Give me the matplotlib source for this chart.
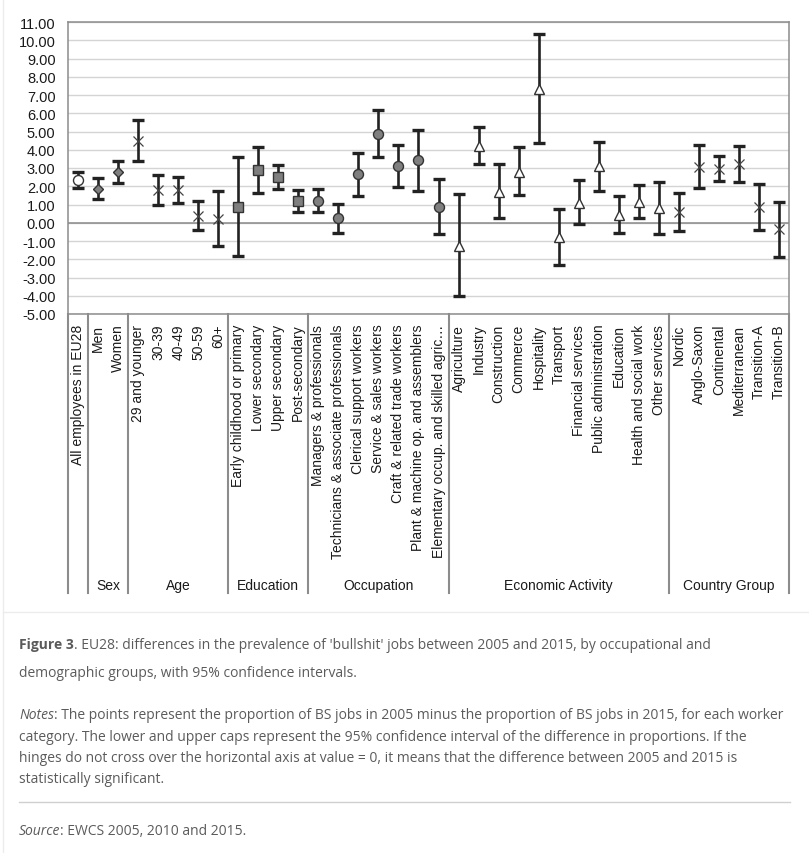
import matplotlib as mpl
import matplotlib.pyplot as plt
import numpy as np

# categories, in the order of the x axis
labels = [
    'All employees in EU28',
    'Men', 'Women',
    '29 and younger', '30-39', '40-49', '50-59', '60+',
    'Early childhood or primary', 'Lower secondary', 'Upper secondary', 'Post-secondary',
    'Managers & professionals', 'Technicians & associate professionals',
    'Clerical support workers', 'Service & sales workers', 'Craft & related trade workers',
    'Plant & machine op. and assemblers', 'Elementary occup. and skilled agric\u2026',
    'Agriculture', 'Industry', 'Construction', 'Commerce', 'Hospitality', 'Transport',
    'Financial services', 'Public administration', 'Education', 'Health and social work',
    'Other services',
    'Nordic', 'Anglo-Saxon', 'Continental', 'Mediterranean', 'Transition-A', 'Transition-B',
]
groups = ['', 'Sex', 'Age', 'Education', 'Occupation', 'Economic Activity', 'Country Group']
group_sizes = [1, 2, 5, 4, 7, 11, 6]

# difference 2005 - 2015 (percentage points) and 95% CI
point = [2.33,
         1.87, 2.78,
         4.48, 1.78, 1.78, 0.37, 0.19,
         0.89, 2.87, 2.51, 1.21,
         1.21, 0.25, 2.65, 4.88, 3.13, 3.42, 0.89,
         -1.27, 4.20, 1.71, 2.80, 7.34, -0.76, 1.10, 3.09, 0.43, 1.12, 0.79,
         0.61, 3.05, 2.97, 3.22, 0.85, -0.36]
upper = [2.76,
         2.47, 3.37,
         5.61, 2.62, 2.53, 1.19, 1.74,
         3.58, 4.13, 3.16, 1.82,
         1.85, 1.03, 3.80, 6.19, 4.28, 5.08, 2.38,
         1.60, 5.27, 3.24, 4.17, 10.32, 0.78, 2.34, 4.44, 1.45, 2.07, 2.23,
         1.65, 4.28, 3.64, 4.22, 2.12, 1.16]
lower = [1.89,
         1.29, 2.16,
         3.38, 0.96, 1.07, -0.41, -1.30,
         -1.82, 1.63, 1.87, 0.61,
         0.59, -0.54, 1.49, 3.58, 1.94, 1.74, -0.63,
         -4.04, 3.20, 0.26, 1.52, 4.39, -2.31, -0.06, 1.76, -0.56, 0.25, -0.63,
         -0.47, 1.89, 2.27, 2.22, -0.37, -1.87]

# marker style per group
group_markers = ['o', 'D', 'x', 's', 'o', '^', 'x']
group_fill = ['white', '#7f7f7f', 'none', '#7f7f7f', '#7f7f7f', 'white', 'none']
group_ms = [7.2, 5.0, 6.6, 6.6, 7.2, 7.2, 6.6]

W, H = 809, 854
plt.rcParams['font.family'] = ['Liberation Sans', 'DejaVu Sans']
fig = plt.figure(figsize=(W / 100, H / 100), dpi=100)
ax = fig.add_axes([68 / W, 1 - 315 / H, 721 / W, 292 / H])

x = np.arange(len(labels))
point = np.array(point)
upper = np.array(upper)
lower = np.array(lower)

if 'Error bars and markers':
    ax.errorbar(x, point, yerr=[point - lower, upper - point], fmt='none',
                ecolor='#222222', elinewidth=1.9, capsize=4.5, capthick=2.4, zorder=3)
    start = 0
    for m, fc, ms, n in zip(group_markers, group_fill, group_ms, group_sizes):
        sl = slice(start, start + n)
        if m == 'x':
            ax.plot(x[sl], point[sl], ls='none', marker='x', ms=ms, mec='#444444',
                    mew=0.9, zorder=4)
        else:
            ax.plot(x[sl], point[sl], ls='none', marker=m, ms=ms, mfc=fc,
                    mec='#333333', mew=1.0, zorder=4)
        start += n

if 'Axes styling':
    ax.set_xlim(-0.5, len(labels) - 0.5)
    ax.set_ylim(-5, 11)
    ax.set_yticks(np.arange(-5, 12))
    ax.yaxis.set_major_formatter(mpl.ticker.FormatStrFormatter('%.2f'))
    ax.tick_params(axis='y', length=0, pad=9, labelsize=10.5, labelcolor='#1a1a1a')
    ax.yaxis.grid(True, color='#d4d4d4', lw=1.0)
    ax.set_axisbelow(True)
    ax.axhline(0, color='#8a8a8a', lw=1.1, zorder=2)
    for s in ax.spines.values():
        s.set_color('#8c8c8c')
        s.set_linewidth(1.1)
    ax.set_xticks(x)
    ax.set_xticklabels(labels, rotation=90, fontsize=10, color='#1a1a1a')
    ax.tick_params(axis='x', length=0, pad=7)

if 'Group axis below':
    trans = ax.get_xaxis_transform()
    bounds = np.cumsum([0] + group_sizes) - 0.5
    for b in bounds:
        ax.plot([b, b], [0, -(594 - 315) / 292], transform=trans, clip_on=False,
                color='#8c8c8c', lw=1.5)
    centers = (bounds[:-1] + bounds[1:]) / 2
    for c, g in zip(centers, groups):
        ax.text(c, -(586 - 315) / 292, g, transform=trans, ha='center', va='center',
                fontsize=10, color='#1a1a1a')

if 'Frame of the chart image':
    fig.add_artist(mpl.lines.Line2D([3 / W, 3 / W], [0, 1], color='#ececec', lw=1))
    fig.add_artist(mpl.lines.Line2D([3 / W, 1], [1 - 613 / H] * 2, color='#ececec', lw=1))

if 'Caption':
    cap = dict(family=['Open Sans', 'DejaVu Sans'], fontsize=10, color='#5b5b5b',
               va='baseline')
    renderer = fig.canvas.get_renderer()

    def rich_line(y, parts):
        xp = 19
        for txt, style in parts:
            t = fig.text(xp / W, 1 - y / H, txt, **cap, **style)
            xp = t.get_window_extent(renderer).x1

    rich_line(649, [('Figure 3', dict(weight='bold')),
                    (". EU28: differences in the prevalence of 'bullshit' jobs between 2005 "
                     "and 2015, by occupational and", {})])
    rich_line(677, [('demographic groups, with 95% confidence intervals.', {})])
    rich_line(719, [('Notes', dict(style='italic')),
                    (': The points represent the proportion of BS jobs in 2005 minus the '
                     'proportion of BS jobs in 2015, for each worker', {})])
    rich_line(741, [('category. The lower and upper caps represent the 95% confidence interval '
                     'of the difference in proportions. If the', {})])
    rich_line(762, [('hinges do not cross over the horizontal axis at value = 0, it means that '
                     'the difference between 2005 and 2015 is', {})])
    rich_line(783, [('statistically significant.', {})])
    fig.add_artist(mpl.lines.Line2D([19 / W, 790 / W], [1 - 803 / H] * 2,
                                    color='#d0d0d0', lw=1))
    rich_line(835, [('Source', dict(style='italic')),
                    (': EWCS 2005, 2010 and 2015.', {})])

fig.savefig('out.png', dpi=100, facecolor='white')
